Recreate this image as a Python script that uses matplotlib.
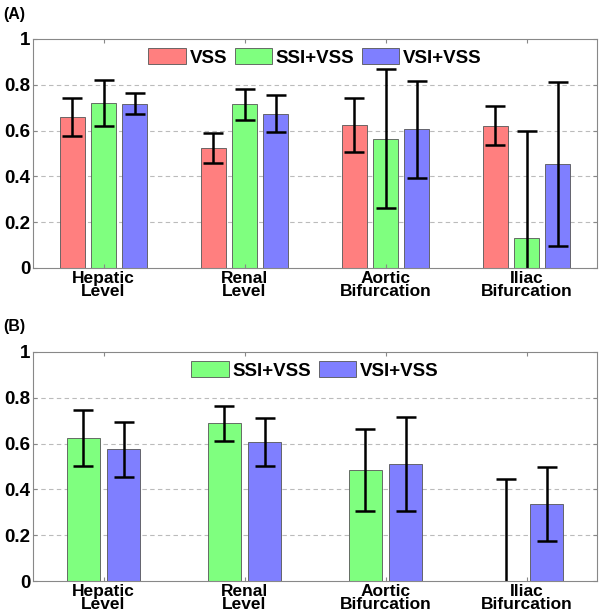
import matplotlib
matplotlib.use("Agg")
import matplotlib.pyplot as plt
import numpy as np

plt.rcParams['font.family'] = ['Liberation Sans', 'DejaVu Sans']
plt.rcParams['font.weight'] = 'bold'

sites = ['Hepatic\nLevel', 'Renal\nLevel', 'Aortic\nBifurcation', 'Iliac\nBifurcation']

# panel A
vss_a = [0.66, 0.524, 0.623, 0.622]
vss_a_err = [0.083, 0.067, 0.118, 0.085]
ssi_a = [0.72, 0.715, 0.564, 0.133]
ssi_a_err = [0.099, 0.067, 0.303, 0.464]
vsi_a = [0.717, 0.674, 0.606, 0.455]
vsi_a_err = [0.045, 0.081, 0.211, 0.357]

# panel B
ssi_b = [0.625, 0.688, 0.486, 0.0]
ssi_b_err = [0.121, 0.078, 0.179, 0.445]
vsi_b = [0.575, 0.607, 0.512, 0.337]
vsi_b_err = [0.119, 0.103, 0.205, 0.162]

red = '#FF7F7F'
green = '#7FFF7F'
blue = '#7F7FFF'

fig = plt.figure(figsize=(6, 6.16), dpi=100)
axA = fig.add_axes([0.055, 0.565, 0.94, 0.3717])
axB = fig.add_axes([0.055, 0.0568, 0.94, 0.3718])

x = np.arange(1, 5)
ekw = dict(ecolor='black', elinewidth=1.8, capsize=7, capthick=1.8)
bkw = dict(edgecolor='#555555', linewidth=0.6)

def style(ax):
    ax.set_xlim(0.5, 4.5)
    ax.set_ylim(0, 1)
    ax.set_yticks([0, 0.2, 0.4, 0.6, 0.8, 1])
    ax.set_yticklabels(['0', '0.2', '0.4', '0.6', '0.8', '1'], fontsize=13.5)
    ax.set_xticks(x)
    ax.set_xticklabels(sites, linespacing=0.85, fontsize=12.5)
    ax.tick_params(direction='in', top=True, right=True, length=3,
                   color='#888888', pad=2)
    for s in ax.spines.values():
        s.set_color('#888888')
        s.set_linewidth(0.8)
    for y in [0.2, 0.4, 0.6, 0.8]:
        ax.axhline(y, color='#bbbbbb', linestyle=(0, (4, 3)), linewidth=0.8, zorder=0)
    for lab in ax.get_xticklabels() + ax.get_yticklabels():
        lab.set_fontweight('bold')

leg_kw = dict(loc='upper center', frameon=False, handlelength=2.0,
              handleheight=0.9, handletextpad=0.2, columnspacing=0.4,
              borderaxespad=0.1, prop={'weight': 'bold', 'size': 13.5})

w = 0.18
axA.bar(x - 0.22, vss_a, w, color=red, label='VSS', yerr=vss_a_err, error_kw=ekw, **bkw)
axA.bar(x, ssi_a, w, color=green, label='SSI+VSS', yerr=ssi_a_err, error_kw=ekw, **bkw)
axA.bar(x + 0.22, vsi_a, w, color=blue, label='VSI+VSS', yerr=vsi_a_err, error_kw=ekw, **bkw)
style(axA)
axA.legend(ncol=3, **leg_kw)

w2 = 0.23
axB.bar(x - 0.142, ssi_b, w2, color=green, label='SSI+VSS', yerr=ssi_b_err, error_kw=ekw, **bkw)
axB.bar(x + 0.142, vsi_b, w2, color=blue, label='VSI+VSS', yerr=vsi_b_err, error_kw=ekw, **bkw)
style(axB)
axB.legend(ncol=2, **leg_kw)

fig.text(0.006, 0.977, '(A)', fontsize=11.5, fontweight='bold', va='center')
fig.text(0.006, 0.470, '(B)', fontsize=11.5, fontweight='bold', va='center')

fig.savefig('out.png', dpi=100)
